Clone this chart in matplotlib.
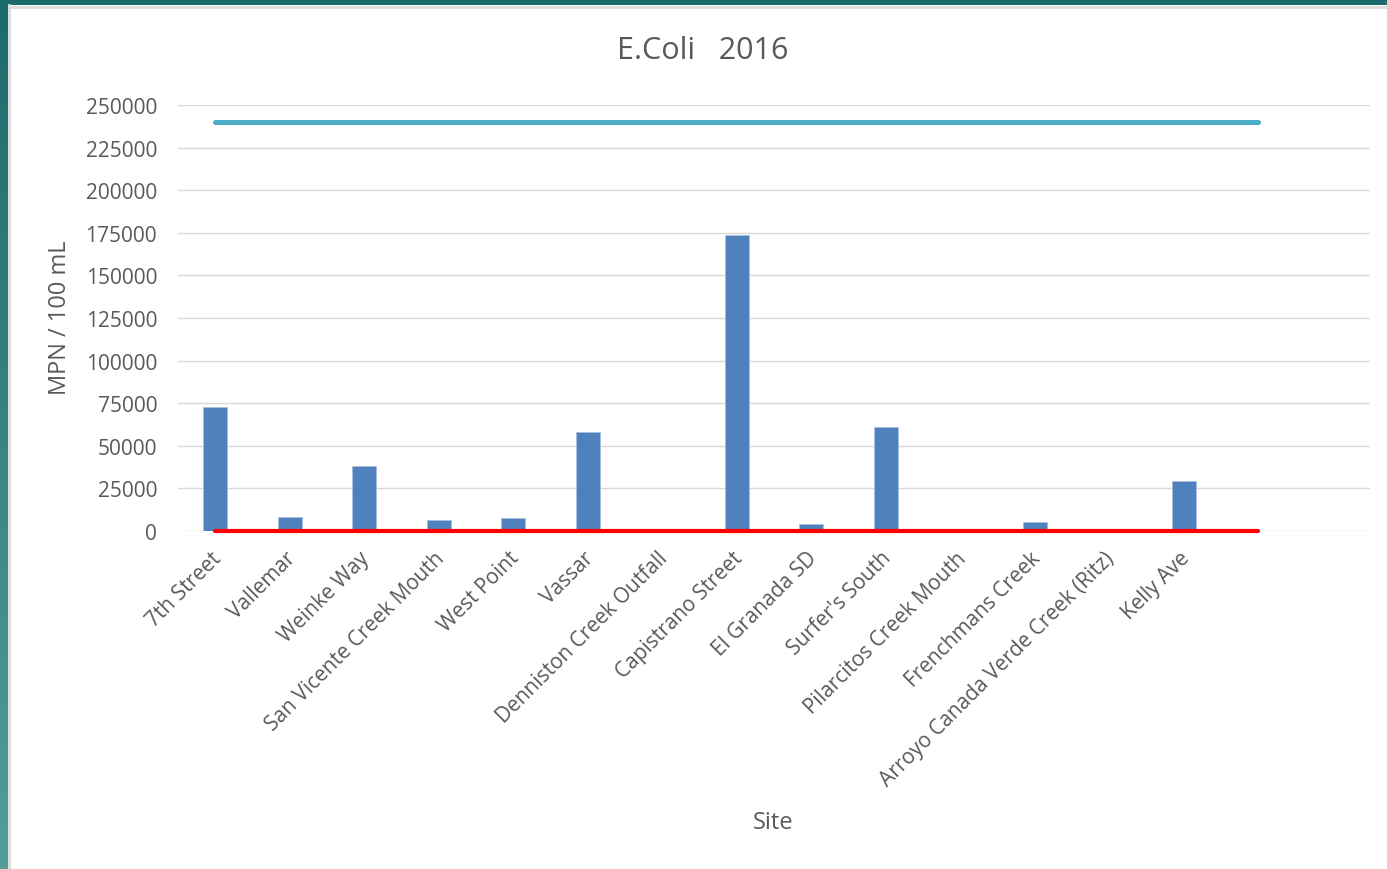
import numpy as np
import matplotlib
matplotlib.use("Agg")
import matplotlib.pyplot as plt
import matplotlib.transforms as mtransforms
from matplotlib.colors import LinearSegmentedColormap

# Site names along the x axis (two trailing empty slots)
sites = [
    "7th Street", "Vallemar", "Weinke Way", "San Vicente Creek Mouth",
    "West Point", "Vassar", "Denniston Creek Outfall", "Capistrano Street",
    "El Granada SD", "Surfer's South", "Pilarcitos Creek Mouth",
    "Frenchmans Creek", "Arroyo Canada Verde Creek (Ritz)", "Kelly Ave",
    "", "",
]

# E. coli results, MPN / 100 mL
ecoli = [72700, 8200, 38300, 6600, 7500, 58100, 0, 173700,
         4100, 61000, 0, 5300, 0, 29200]

# Reference limit lines (15 points each)
upper_limit = [240000] * 15
lower_limit = [235] * 15

y_ticks = [0, 25000, 50000, 75000, 100000, 125000, 150000,
           175000, 200000, 225000, 250000]

GREY = "#595959"
FONT = "Open Sans"
plt.rcParams["font.family"] = [FONT, "DejaVu Sans"]

W, H = 1387, 870
fig = plt.figure(figsize=(W / 100, H / 100), dpi=100)
fig.patch.set_facecolor("white")

# Frame bands: teal strip at top and gradient strip at left
top = fig.add_axes([0, 1 - 6 / H, 1, 6 / H])
top.set_axis_off()
top.add_patch(plt.Rectangle((0, 0), 1, 1, color="#1c6b6c"))
top.set_xlim(0, 1); top.set_ylim(0, 1)

left = fig.add_axes([0, 0, 8 / W, 1])
left.set_axis_off()
grad = np.linspace(0, 1, 256).reshape(-1, 1)
cmap = LinearSegmentedColormap.from_list("edge", ["#1c6b6c", "#569c98"])
left.imshow(grad, aspect="auto", cmap=cmap, extent=[0, 1, 0, 1], origin="upper")

fig.add_artist(plt.Line2D([9 / W, 9 / W], [0, 1 - 6 / H], color="#dcdcdc", lw=2))
fig.add_artist(plt.Line2D([9 / W, 1], [1 - 7.5 / H, 1 - 7.5 / H], color="#dcdcdc", lw=2))

ax = fig.add_axes([178 / W, (H - 532) / H, (1370 - 178) / W, 426 / H])
x = np.arange(len(sites))
xb = np.arange(len(ecoli))
ax.bar(xb, ecoli, width=0.32, color="#4f81bd", edgecolor="#a8c0e0",
       linewidth=0.6, zorder=3)
xl = np.arange(len(upper_limit))
ax.plot(xl, upper_limit, color="#4bacc6", lw=3.6, solid_capstyle="round",
        zorder=4, clip_on=False)
ax.plot(xl, lower_limit, color="#ff0000", lw=3.0, solid_capstyle="round",
        zorder=4, clip_on=False)

ax.set_xlim(-0.5, len(sites) - 0.5)
ax.set_ylim(0, 250000)
ax.set_yticks(y_ticks)
ax.set_yticklabels([str(v) for v in y_ticks])
ax.set_xticks(x)
ax.set_xticklabels(sites, rotation=45, ha="right", rotation_mode="anchor")
ax.tick_params(axis="y", length=0, pad=15, labelsize=15, labelcolor=GREY)
ax.tick_params(axis="x", length=0, pad=11, labelsize=15, labelcolor=GREY)
shift = mtransforms.ScaledTranslation(-5 / 100, -1 / 100, fig.dpi_scale_trans)
for lbl in ax.get_xticklabels():
    lbl.set_transform(lbl.get_transform() + shift)
ax.grid(axis="y", color="#d9d9d9", lw=1, zorder=0)
for s in ax.spines.values():
    s.set_visible(False)
ax.set_facecolor("none")

fig.text(703 / W, 1 - 51 / H, "E.Coli   2016", ha="center", va="center",
         fontsize=22, color=GREY)
fig.text(60 / W, 1 - 318 / H, "MPN / 100 mL", ha="center", va="center",
         rotation=90, fontsize=17, color=GREY)
fig.text(773 / W, 1 - 823 / H, "Site", ha="center", va="center",
         fontsize=17, color=GREY)

fig.savefig("out.png", dpi=100)
